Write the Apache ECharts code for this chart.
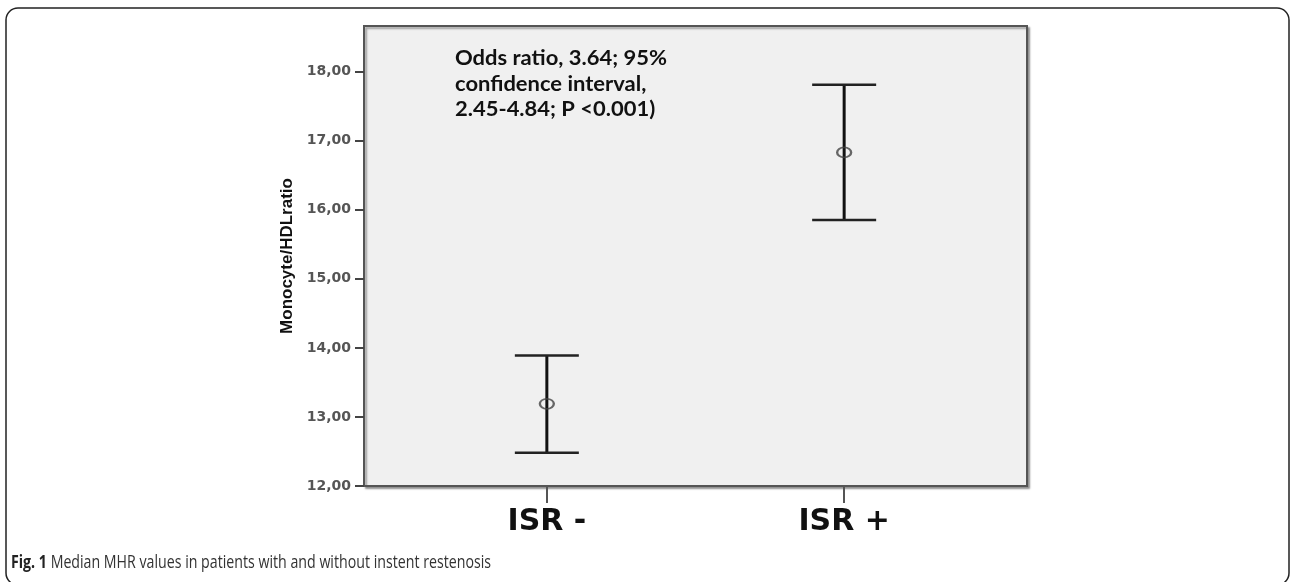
<!DOCTYPE html>
<html><head><meta charset="utf-8">
<script src="https://cdn.jsdelivr.net/npm/echarts@6/dist/echarts.min.js"></script>
<style>html,body{margin:0;padding:0;background:#fff}#c{width:1292px;height:582px}</style>
</head><body><div id="c"></div>
<script>
// ---- data ----
const categories = ['ISR -', 'ISR +'];
const medians = [13.19, 16.83];
const lowerCI = [12.48, 15.85];
const upperCI = [13.89, 17.81];
const yTicks = [12, 13, 14, 15, 16, 17, 18];
const yAxisTitle = 'Monocyte/HDLratio';
const annotationLines = ['Odds ratio, 3.64; 95%', 'confidence interval,', '2.45-4.84; P <0.001)'];
const captionBold = 'Fig. 1';
const captionText = ' Median MHR values in patients with and without instent restenosis';

// ---- helpers ----
const xPos = categories.map((c, i) => i + 1);
const ctx = document.createElement('canvas').getContext('2d');
function measure(font, txt) { ctx.font = font; return ctx.measureText(txt).width; }

const annFont = 'bold 20px Lato';
const annScale = 212 / measure(annFont, annotationLines[0]);
const capBoldFont = 'bold 18px "Open Sans"';
const capFont = '18px "Open Sans"';
const capScale = 480 / (measure(capBoldFont, captionBold) + measure(capFont, captionText));

const chart = echarts.init(document.getElementById('c'), null, { renderer: 'canvas' });
chart.setOption({
  animation: false,
  backgroundColor: '#ffffff',
  grid: {
    left: 364, top: 26, right: 265, bottom: 96,
    show: true, backgroundColor: '#f0f0f0', borderColor: '#555', borderWidth: 2,
    shadowColor: 'rgba(0,0,0,0.35)', shadowBlur: 2, shadowOffsetX: 2, shadowOffsetY: 2
  },
  xAxis: {
    type: 'value', min: 0.385, max: 2.615,
    splitLine: { show: false },
    axisLine: { show: true, onZero: false, lineStyle: { color: '#555', width: 2 } },
    axisTick: { show: true, customValues: xPos, length: 17, lineStyle: { color: '#555', width: 2 } },
    axisLabel: {
      customValues: xPos, margin: 21,
      formatter: v => categories[Math.round(v) - 1] || '',
      fontFamily: 'DejaVu Sans', fontWeight: 'bold', fontSize: 30, color: '#111'
    }
  },
  yAxis: {
    type: 'value', min: 12, max: 18.66,
    splitLine: { show: false },
    axisLine: { show: true, lineStyle: { color: '#555', width: 2 } },
    axisTick: { show: true, customValues: yTicks, length: 9, lineStyle: { color: '#444', width: 2 } },
    axisLabel: {
      customValues: yTicks, margin: 13,
      formatter: v => v.toFixed(2).replace('.', ','),
      fontFamily: 'DejaVu Sans', fontWeight: 'bold', fontSize: 14, color: '#555'
    },
    name: yAxisTitle, nameLocation: 'middle', nameGap: 68, nameRotate: 90,
    nameTextStyle: { fontFamily: 'Liberation Sans', fontWeight: 'bold', fontSize: 17, color: '#111' }
  },
  series: [
    {
      type: 'custom',
      data: xPos.map((x, i) => [x, lowerCI[i], upperCI[i]]),
      encode: { x: 0, y: [1, 2] },
      z: 2,
      renderItem: function (params, api) {
        const x = api.value(0);
        const lo = api.coord([x, api.value(1)]);
        const hi = api.coord([x, api.value(2)]);
        const hw = 32;
        const cap = { stroke: '#222', lineWidth: 2.5 };
        return {
          type: 'group', children: [
            { type: 'line', shape: { x1: lo[0], y1: lo[1], x2: hi[0], y2: hi[1] }, style: { stroke: '#111', lineWidth: 3 } },
            { type: 'line', shape: { x1: lo[0] - hw, y1: lo[1], x2: lo[0] + hw, y2: lo[1] }, style: cap },
            { type: 'line', shape: { x1: hi[0] - hw, y1: hi[1], x2: hi[0] + hw, y2: hi[1] }, style: cap }
          ]
        };
      }
    },
    {
      type: 'scatter',
      data: xPos.map((x, i) => [x, medians[i]]),
      symbol: 'circle', symbolSize: [14, 10], z: 3,
      itemStyle: { color: 'rgba(0,0,0,0)', borderColor: '#444', borderWidth: 2 }
    }
  ],
  graphic: [
    {
      type: 'rect', silent: true, z: 0,
      shape: { x: 6, y: 8, width: 1283, height: 577, r: 12 },
      style: { fill: 'none', stroke: '#222', lineWidth: 1.5 }
    },
    {
      type: 'text', x: 455, y: 46, scaleX: annScale, originX: 0, z: 10,
      style: {
        text: annotationLines.join('\n'), font: annFont, fill: '#111',
        lineHeight: 25.5, verticalAlign: 'top', align: 'left'
      }
    },
    {
      type: 'text', x: 11, y: 563, scaleX: capScale, originX: 0, z: 10,
      style: {
        text: '{b|' + captionBold + '}{n|' + captionText + '}',
        verticalAlign: 'middle', align: 'left',
        rich: {
          b: { font: capBoldFont, fill: '#222' },
          n: { font: capFont, fill: '#333' }
        }
      }
    }
  ]
});
</script>
</body></html>
